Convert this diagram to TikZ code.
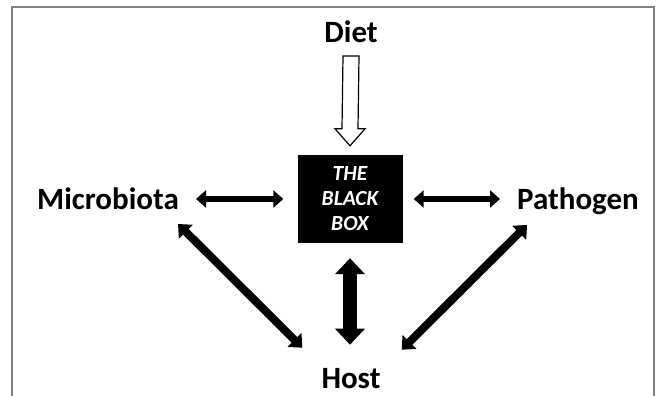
\documentclass[tikz,border=0pt]{standalone}
\usepackage{fontspec}
\setmainfont{Carlito}
\usetikzlibrary{arrows.meta, positioning}

\begin{document}
\begin{tikzpicture}[x=1pt, y=-1pt,
        word/.style={font=\fontsize{31}{36}\selectfont\bfseries, inner sep=0pt, anchor=base},
        blackbox/.style={fill=black, text=white, minimum width=105pt, minimum height=88pt, inner sep=0pt, align=center, font=\fontsize{21.5}{25}\selectfont\bfseries\itshape},
        flat/.style={line width=6pt, {Triangle[length=10pt,width=17pt]}-{Triangle[length=10pt,width=17pt]}},
        slant/.style={line width=8pt, {Triangle[length=11pt,width=19pt]}-{Triangle[length=11pt,width=19pt]}},
        upright/.style={line width=14pt, {Triangle[length=16pt,width=29pt]}-{Triangle[length=16pt,width=29pt]}},
        hollow/.style={draw=black, fill=white, line width=1.2pt, line join=miter}]
        \useasboundingbox (0,0) rectangle (667,396);
        \draw[line width=1.5pt, gray] (12,396) -- (12,7) -- (654,7) -- (654,396);

        \node[blackbox] (box) at (350,199) {THE\\BLACK\\BOX};
        \node[word] (diet) at (351,43) {Diet};
        \node[word] (micro) at (108,209) {Microbiota};
        \node[word] (patho) at (578,209) {Pathogen};
        \node[word] (host) at (351,388) {Host};

        % food goes in from the top
        \draw[hollow] ([shift={(-8,13)}]diet.base) -- ([shift={(-8,-26)}]box.north) -- ([shift={(-15,-26)}]box.north)
            -- ([shift={(0,-9)}]box.north) -- ([shift={(15,-26)}]box.north) -- ([shift={(8,-26)}]box.north)
            -- ([shift={(8,13)}]diet.base) -- cycle;

        \draw[flat, shorten <=17pt, shorten >=14pt] (micro.east |- box.west) -- (box.west);
        \draw[flat, shorten <=11pt, shorten >=17pt] (box.east) -- (box.east -| patho.west);
        \draw[upright, shorten <=15pt, shorten >=23pt] (box.south) -- (box.south |- host.north);
        \draw[slant] ([shift={(-1,15)}]micro.base east) -- ([shift={(-19,-20)}]host.north west);
        \draw[slant] ([shift={(10,16)}]patho.base west) -- ([shift={(21,-18)}]host.north east);
\end{tikzpicture}
\end{document}
